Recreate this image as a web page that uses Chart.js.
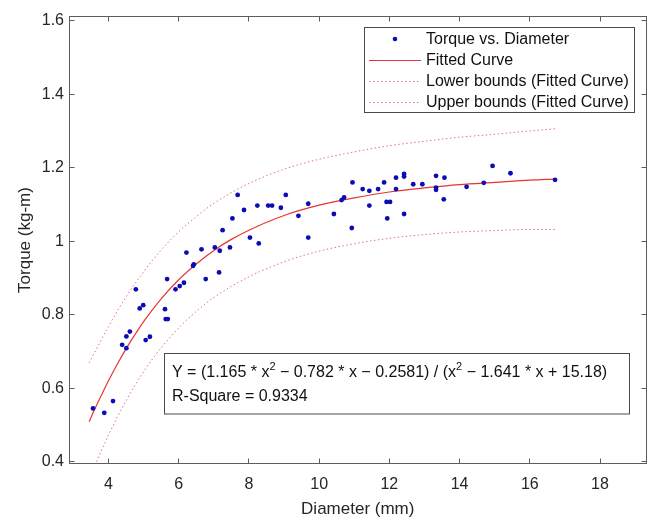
<!DOCTYPE html>
<html><head><meta charset="utf-8">
<script src="https://cdn.jsdelivr.net/npm/chart.js@4.4.1/dist/chart.umd.min.js"></script>
<style>html,body{margin:0;padding:0;background:#fff;}#wrap{width:650px;height:521px;}</style>
</head><body><div id="wrap"><canvas id="c" width="650" height="521"></canvas></div>
<script>
// ---- data ----
const diameter = [3.56,3.88,4.13,4.39,4.51,4.51,4.61,4.78,4.89,4.99,5.06,5.18,5.61,5.63,5.69,5.67,5.91,6.03,6.15,6.22,6.41,6.43,6.65,6.77,7.03,7.15,7.17,7.25,7.46,7.53,7.68,7.86,8.03,8.28,8.24,8.55,8.66,8.91,9.05,9.41,9.69,9.69,10.42,10.64,10.71,10.95,10.93,11.24,11.43,11.43,11.68,11.85,11.92,12.02,11.94,12.19,12.19,12.42,12.42,12.42,12.68,12.94,13.33,13.33,13.33,13.55,13.57,14.20,14.69,14.94,15.45,16.72];
const torque = [0.545,0.533,0.565,0.718,0.709,0.741,0.754,0.869,0.817,0.826,0.731,0.740,0.815,0.788,0.788,0.897,0.869,0.878,0.887,0.969,0.933,0.937,0.978,0.897,0.983,0.915,0.974,1.030,0.983,1.062,1.126,1.085,1.010,0.994,1.097,1.097,1.097,1.091,1.126,1.069,1.010,1.102,1.074,1.112,1.119,1.160,1.036,1.142,1.137,1.097,1.142,1.160,1.107,1.107,1.062,1.142,1.173,1.183,1.176,1.074,1.155,1.155,1.178,1.146,1.140,1.114,1.173,1.148,1.159,1.205,1.185,1.167];

const fitDiameter = [3.45,3.6,3.8,4,4.25,4.5,4.75,5,5.5,6,6.5,7,7.5,8,9,10,11,12,13,14,15,16,16.72];
const fitTorque   = [0.509,0.541,0.581,0.620,0.665,0.707,0.745,0.781,0.843,0.895,0.938,0.975,1.005,1.030,1.070,1.098,1.118,1.134,1.145,1.154,1.160,1.166,1.169];

const boundDiameter = [3.45,3.6,4,4.5,5,5.5,6,6.5,7,8,9,10,11,12,13,14,15,16,16.72];
const upperBound    = [0.669,0.696,0.768,0.848,0.917,0.976,1.026,1.067,1.103,1.157,1.196,1.223,1.243,1.260,1.272,1.283,1.291,1.300,1.306];
const lowerBound    = [0.349,0.386,0.472,0.566,0.645,0.710,0.764,0.809,0.847,0.903,0.944,0.973,0.993,1.008,1.018,1.025,1.029,1.032,1.032];

const xTickValues = [4,6,8,10,12,14,16,18];
const yTickValues = [0.4,0.6,0.8,1.0,1.2,1.4,1.6];
const seriesNames = ['Torque vs. Diameter','Fitted Curve','Lower bounds (Fitted Curve)','Upper bounds (Fitted Curve)'];
const xTitle = 'Diameter (mm)';
const yTitle = 'Torque (kg-m)';
const equationParts = [['Y = (1.165 * x',false],['2',true],[' \u2212 0.782 * x \u2212 0.2581) / (x',false],['2',true],[' \u2212 1.641 * x + 15.18)',false]];
const rSquareText = 'R-Square = 0.9334';

// ---- styling ----
const FONT = "'Liberation Sans', Arial, sans-serif";
const TEXT = '#262626';
const AXIS = '#5c5c5c';
const DOT = '#0c0cb4';
const RED = 'rgb(232,52,52)';
const RED_DOT = 'rgba(220,80,80,0.8)';

const pairs = (xs, ys) => xs.map((v, i) => ({x: v, y: ys[i]}));

const framePlugin = {
  id: 'frame',
  afterDraw(chart) {
    const {ctx, chartArea: a, scales: {x, y}} = chart;
    const crisp = p => Math.round(p - 0.5) + 0.5;
    ctx.save();
    ctx.strokeStyle = AXIS; ctx.lineWidth = 1;
    const l = crisp(a.left), t = crisp(a.top), r = crisp(a.right), b = crisp(a.bottom);
    ctx.strokeRect(l, t, r - l, b - t);
    ctx.beginPath();
    const L = 5;
    xTickValues.forEach(v => {
      const p = crisp(x.getPixelForValue(v));
      ctx.moveTo(p, b); ctx.lineTo(p, b - L);
      ctx.moveTo(p, t); ctx.lineTo(p, t + L);
    });
    yTickValues.forEach(v => {
      const p = crisp(y.getPixelForValue(v));
      ctx.moveTo(l, p); ctx.lineTo(l + L, p);
      ctx.moveTo(r, p); ctx.lineTo(r - L, p);
    });
    ctx.stroke();

    // legend
    const lx = 364.5, ly = 27.5, lw = 270, lh = 85;
    ctx.fillStyle = '#fff'; ctx.fillRect(lx, ly, lw, lh);
    ctx.strokeStyle = '#4a4a4a'; ctx.strokeRect(lx, ly, lw, lh);
    const rows = [39, 60, 81, 102];
    ctx.font = '16px ' + FONT; ctx.textBaseline = 'middle'; ctx.textAlign = 'left';
    chart.data.datasets.forEach((ds, i) => {
      const ry = rows[i];
      if (i === 0) {
        ctx.fillStyle = DOT; ctx.beginPath(); ctx.arc(395, ry, 2.3, 0, Math.PI * 2); ctx.fill();
      } else {
        ctx.strokeStyle = ds.borderColor; ctx.lineWidth = ds.borderWidth;
        ctx.setLineDash(ds.borderDash || []);
        ctx.beginPath(); ctx.moveTo(369, ry + 0.5); ctx.lineTo(421, ry + 0.5); ctx.stroke();
        ctx.setLineDash([]);
      }
      ctx.fillStyle = '#111'; ctx.fillText(ds.label, 426, ry + 0.5);
    });

    // equation box
    const bx = 164.5, by = 353.5, bw = 465, bh = 60.5;
    ctx.fillStyle = '#fff'; ctx.fillRect(bx, by, bw, bh);
    ctx.strokeStyle = '#4a4a4a'; ctx.lineWidth = 1; ctx.strokeRect(bx, by, bw, bh);
    ctx.fillStyle = '#111'; ctx.textBaseline = 'alphabetic';
    let tx = 172;
    const base1 = 377;
    equationParts.forEach(([s, sup]) => {
      ctx.font = (sup ? '11px ' : '16px ') + FONT;
      ctx.fillText(s, tx, sup ? base1 - 7 : base1);
      tx += ctx.measureText(s).width;
    });
    ctx.font = '16px ' + FONT;
    ctx.fillText(rSquareText, 172, 401);
    ctx.restore();
  }
};

new Chart(document.getElementById('c'), {
  type: 'scatter',
  data: {
    datasets: [
      {label: seriesNames[0], data: pairs(diameter, torque), showLine: false,
       pointRadius: 2.4, pointBackgroundColor: DOT, pointBorderWidth: 0, order: 0},
      {label: seriesNames[1], data: pairs(fitDiameter, fitTorque), showLine: true,
       borderColor: RED, borderWidth: 1.2, pointRadius: 0, cubicInterpolationMode: 'monotone', order: 1},
      {label: seriesNames[2], data: pairs(boundDiameter, lowerBound), showLine: true,
       borderColor: RED_DOT, borderWidth: 1, borderDash: [1.5, 2.5], pointRadius: 0, cubicInterpolationMode: 'monotone', order: 2},
      {label: seriesNames[3], data: pairs(boundDiameter, upperBound), showLine: true,
       borderColor: RED_DOT, borderWidth: 1, borderDash: [1.5, 2.5], pointRadius: 0, cubicInterpolationMode: 'monotone', order: 3}
    ]
  },
  options: {
    responsive: false, animation: false, devicePixelRatio: 1,
    layout: {padding: {top: 16.7, right: 4, bottom: 0, left: 0}},
    plugins: {legend: {display: false}, tooltip: {enabled: false}},
    scales: {
      x: {
        type: 'linear', min: 2.89, max: 19.31,
        afterBuildTicks: s => { s.ticks = xTickValues.map(v => ({value: v})); },
        afterFit: s => { s.height = 57.7; },
        grid: {display: false, drawTicks: false}, border: {display: false},
        ticks: {font: {family: FONT, size: 16}, color: TEXT, padding: 12, maxRotation: 0, autoSkip: false,
                callback: v => String(v)},
        title: {display: true, text: xTitle, font: {family: FONT, size: 17}, color: TEXT, padding: {top: 0, bottom: 1}}
      },
      y: {
        type: 'linear', min: 0.3956, max: 1.611,
        afterBuildTicks: s => { s.ticks = yTickValues.map(v => ({value: v})); },
        afterFit: s => { s.width = 69.5; },
        grid: {display: false, drawTicks: false}, border: {display: false},
        ticks: {font: {family: FONT, size: 16}, color: TEXT, padding: 5.5, autoSkip: false,
                callback: v => String(Number(v.toFixed(1)))},
        title: {display: true, text: yTitle, font: {family: FONT, size: 17}, color: TEXT, padding: {top: 15, bottom: 0}}
      }
    }
  },
  plugins: [framePlugin]
});
</script>
</body></html>
